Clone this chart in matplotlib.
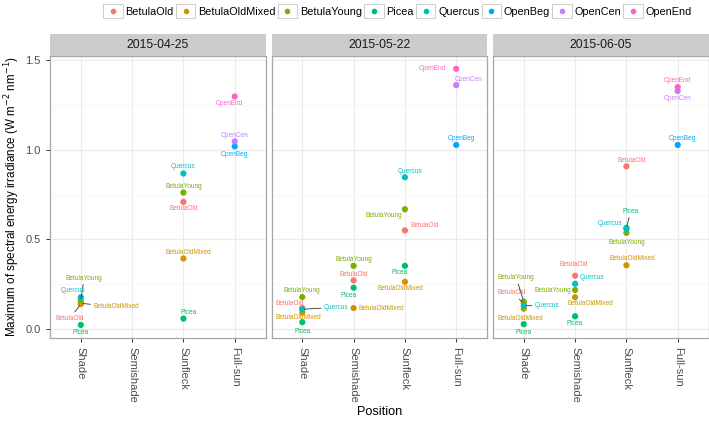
"""
Maximum spectral irradiance by canopy position, one panel per sampling date.
"""

import matplotlib
matplotlib.use("Agg")
import matplotlib.pyplot as plt
from matplotlib.legend_handler import HandlerBase
from matplotlib.lines import Line2D
from matplotlib.patches import Rectangle

plt.rcParams["font.family"] = ["Liberation Sans", "DejaVu Sans"]

# ggplot default hue palette, one colour per site
SITES = ["BetulaOld", "BetulaOldMixed", "BetulaYoung", "Picea", "Quercus",
         "OpenBeg", "OpenCen", "OpenEnd"]
SITE_COLORS = ["#F8766D", "#CD9600", "#7CAE00", "#00BE67", "#00BFC4",
               "#00A9FF", "#C77CFF", "#FF61CC"]

POSITIONS = ["Shade", "Semishade", "Sunfleck", "Full-sun"]
DATES = ["2015-04-25", "2015-05-22", "2015-06-05"]

# ---- 2015-04-25
site_0425 = ["BetulaOld", "BetulaOld", "BetulaOldMixed", "BetulaOldMixed",
             "BetulaYoung", "BetulaYoung", "Picea", "Picea", "Quercus", "Quercus",
             "OpenBeg", "OpenCen", "OpenEnd"]
pos_0425 = ["Shade", "Sunfleck", "Shade", "Sunfleck", "Shade", "Sunfleck",
            "Shade", "Sunfleck", "Shade", "Sunfleck", "Full-sun", "Full-sun", "Full-sun"]
irr_0425 = [0.140, 0.709, 0.144, 0.394, 0.160, 0.761, 0.024, 0.059, 0.178, 0.867,
            1.018, 1.046, 1.296]

# ---- 2015-05-22
site_0522 = ["BetulaOld", "BetulaOld", "BetulaOld",
             "BetulaOldMixed", "BetulaOldMixed", "BetulaOldMixed",
             "BetulaYoung", "BetulaYoung", "BetulaYoung",
             "Picea", "Picea", "Picea", "Quercus", "Quercus",
             "OpenBeg", "OpenCen", "OpenEnd"]
pos_0522 = ["Shade", "Semishade", "Sunfleck", "Shade", "Semishade", "Sunfleck",
            "Shade", "Semishade", "Sunfleck", "Shade", "Semishade", "Sunfleck",
            "Shade", "Sunfleck", "Full-sun", "Full-sun", "Full-sun"]
irr_0522 = [0.118, 0.272, 0.550, 0.092, 0.118, 0.264, 0.179, 0.353, 0.668,
            0.039, 0.231, 0.353, 0.111, 0.846, 1.026, 1.359, 1.450]

# ---- 2015-06-05
site_0605 = ["BetulaOld", "BetulaOld", "BetulaOld",
             "BetulaOldMixed", "BetulaOldMixed", "BetulaOldMixed",
             "BetulaYoung", "BetulaYoung", "BetulaYoung",
             "Picea", "Picea", "Picea", "Quercus", "Quercus", "Quercus",
             "OpenBeg", "OpenCen", "OpenEnd"]
pos_0605 = ["Shade", "Semishade", "Sunfleck", "Shade", "Semishade", "Sunfleck",
            "Shade", "Semishade", "Sunfleck", "Shade", "Semishade", "Sunfleck",
            "Shade", "Semishade", "Sunfleck", "Full-sun", "Full-sun", "Full-sun"]
irr_0605 = [0.146, 0.298, 0.907, 0.114, 0.178, 0.356, 0.153, 0.218, 0.537,
            0.028, 0.072, 0.564, 0.131, 0.253, 0.559, 1.026, 1.326, 1.348]

# label nudges (pixels right, pixels down) and whether a leader segment is drawn,
# mimicking what ggrepel produced
nudge_0425 = [(-10.7, 14.2, True), (0, 7, False), (35.3, 3.3, True), (4.5, -6.3, False),
              (3.3, -22.2, True), (0, -6.3, False), (0.3, 7.3, False), (4.8, -6, False),
              (-7.3, -6.3, False), (0, -6.7, False), (0, 7.7, False), (0, -5.7, False),
              (-5, 6.7, False)]
nudge_0522 = [(-12.3, -5, False), (0, -6, False), (20, -5, False),
              (-3.6, 5, False), (27.4, 0, False), (-5, 7, False),
              (0, -7, False), (0, -6.4, False), (-21, 6.7, False),
              (0, 9, False), (-5, 7.3, False), (-5.3, 6.6, False),
              (34, -2, True), (5, -6, False),
              (5, -6, False), (12.7, -6, False), (-23.6, 0, False)]
nudge_0605 = [(-12, -10, True), (-1.3, -10.7, False), (5, -6, False),
              (-3, 9.3, False), (15, 6.7, False), (5.7, -6.3, False),
              (-7.6, -24, True), (-22.7, 0, False), (0, 9.6, False),
              (0, 8, False), (0, 7.7, False), (4.3, -16.7, True),
              (23, 0, True), (16.7, -6, False), (-16.4, -5, False),
              (4.7, -6, False), (0, 7, False), (0, -7, False)]

PANELS = [
    (site_0425, pos_0425, irr_0425, nudge_0425),
    (site_0522, pos_0522, irr_0522, nudge_0522),
    (site_0605, pos_0605, irr_0605, nudge_0605),
]


class BoxedDot(HandlerBase):
    """ggplot-like legend key: a grey-bordered box with a dot in it."""

    def create_artists(self, legend, orig_handle, xdescent, ydescent,
                       width, height, fontsize, trans):
        box = Rectangle((-xdescent, -ydescent), width, height, facecolor="white",
                        edgecolor="#CCCCCC", linewidth=0.7, transform=trans)
        dot = Line2D([width / 2 - xdescent], [height / 2 - ydescent], marker="o",
                     markersize=3.0, linestyle="", color=orig_handle.get_color(),
                     transform=trans)
        return [box, dot]


W, H = 709, 430
fig = plt.figure(figsize=(W / 100, H / 100), dpi=100)

all_vals = irr_0425 + irr_0522 + irr_0605
span = max(all_vals) - min(all_vals)
ylim = (min(all_vals) - 0.05 * span, max(all_vals) + 0.05 * span)

panel_left = [50, 271.5, 493]
panel_w = 215.5
panel_top, panel_bot = 56, 337.7
strip_top = 34.3

color_of = dict(zip(SITES, SITE_COLORS))

for i, (sites, pos, vals, nudges) in enumerate(PANELS):
    x0 = panel_left[i] / W
    ax = fig.add_axes([x0, 1 - panel_bot / H, panel_w / W, (panel_bot - panel_top) / H])
    ax.set_xlim(-0.6, len(POSITIONS) - 0.4)
    ax.set_ylim(*ylim)
    ax.set_xticks(range(len(POSITIONS)))
    ax.set_yticks([0, 0.5, 1.0, 1.5])
    ax.set_yticks([0.25, 0.75, 1.25], minor=True)
    ax.grid(True, which="major", color="#EBEBEB", linewidth=0.8)
    ax.grid(True, which="minor", axis="y", color="#F4F4F4", linewidth=0.5)
    ax.set_axisbelow(True)
    for sp in ax.spines.values():
        sp.set_color("#A6A6A6")
        sp.set_linewidth(0.9)
    ax.tick_params(which="major", length=3.2, width=0.7, color="#333333",
                   labelcolor="#4D4D4D", labelsize=8)
    ax.tick_params(which="minor", length=0)
    ax.set_xticklabels(POSITIONS, rotation=-90, ha="center", va="top")
    if i == 0:
        ax.set_yticklabels(["0.0", "0.5", "1.0", "1.5"])
    else:
        ax.tick_params(axis="y", labelleft=False, length=0)

    xs = [POSITIONS.index(p) for p in pos]
    cols = [color_of[s] for s in sites]
    ax.scatter(xs, vals, s=20, c=cols, linewidths=0, zorder=3)

    for x, v, s, (dx, dy, seg) in zip(xs, vals, sites, nudges):
        arrow = None
        if seg:
            arrow = dict(arrowstyle="-", color="#333333", linewidth=0.6,
                         shrinkA=0, shrinkB=1.5)
        ax.annotate(s, (x, v), xytext=(dx, -dy), textcoords="offset pixels",
                    ha="center", va="center", fontsize=4.7, color=color_of[s],
                    arrowprops=arrow, zorder=4)

    # facet strip
    sax = fig.add_axes([x0, 1 - panel_top / H, panel_w / W, (panel_top - strip_top) / H])
    sax.set_facecolor("#CCCCCC")
    sax.set_xticks([])
    sax.set_yticks([])
    for sp in sax.spines.values():
        sp.set_visible(False)
    sax.text(0.5, 0.5, DATES[i], ha="center", va="center", fontsize=8.8,
             color="#1A1A1A", transform=sax.transAxes)

fig.text(12 / W, 1 - (panel_top + panel_bot) / 2 / H,
         "Maximum of spectral energy irradiance (W m$^{-2}$ nm$^{-1}$)",
         rotation=90, ha="center", va="center", fontsize=8.4)
fig.text((panel_left[0] + panel_left[2] + panel_w) / 2 / W, 1 - 412 / H, "Position",
         ha="center", va="center", fontsize=9.2)

handles = [Line2D([], [], marker="o", linestyle="", color=c) for c in SITE_COLORS]
fig.legend(handles, SITES, handler_map={Line2D: BoxedDot()}, loc="center",
           bbox_to_anchor=(397.5 / W, 1 - 11 / H), ncol=len(SITES), frameon=False,
           fontsize=7.8, handlelength=1.8, handleheight=1.6, handletextpad=0.25,
           columnspacing=0.2, borderpad=0, borderaxespad=0)

fig.savefig("out.png", dpi=100, facecolor="white")
